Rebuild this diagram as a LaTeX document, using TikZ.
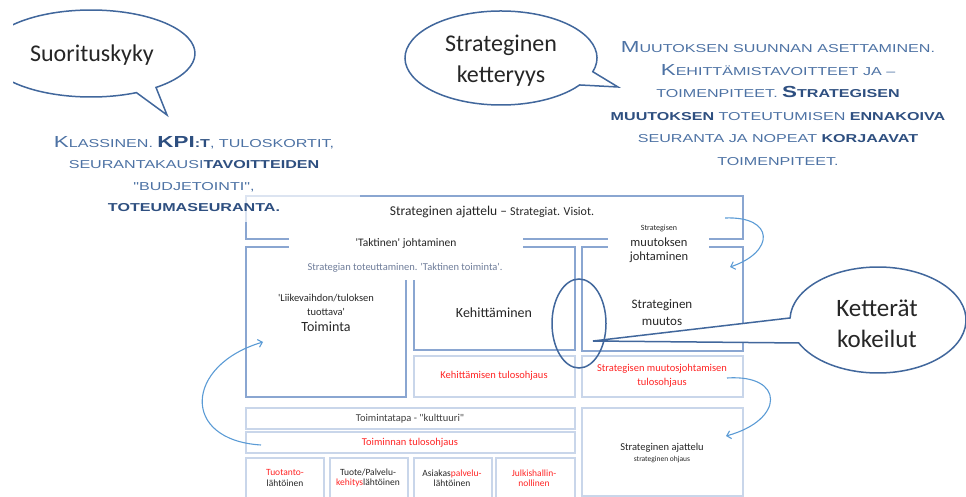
\documentclass[tikz,border=0pt]{standalone}
\usepackage{fontspec}
\usetikzlibrary{arrows.meta}
\setmainfont{Carlito}[Ligatures=TeXOff]
\newfontfamily\cpl{Liberation Sans}[FakeStretch=1.4,Ligatures=TeXOff]
\definecolor{medc}{HTML}{8AA6D1}
\definecolor{litec}{HTML}{C9D6EA}
\definecolor{dkc}{HTML}{41679C}
\definecolor{arrc}{HTML}{5B9BD5}
\definecolor{redc}{HTML}{FF2424}
\definecolor{txtc}{HTML}{262626}
\definecolor{gbc}{HTML}{6E7C99}
\definecolor{regc}{HTML}{4D72A4}
\definecolor{boldc}{HTML}{2E4F80}
\newcommand\Bg[1]{{\fontsize{16}{16}\selectfont #1}}
\newcommand\rt[1]{\textcolor{regc}{#1}}
\newcommand\bt[1]{\textcolor{boldc}{\bfseries #1}}
\newcommand\fs[1]{\fontsize{#1}{#1}\selectfont}
\begin{document}
\begin{tikzpicture}[x=1pt,y=1pt,yscale=-1,
  med/.style={draw=medc, line width=1.6pt},
  lite/.style={draw=litec, line width=1.3pt},
  dk/.style={draw=dkc, line width=1.5pt},
  arr/.style={draw=arrc, line width=1.1pt, -{Straight Barb[length=4pt,width=8pt]}},
  lbl/.style={inner sep=0pt, align=center, text=txtc},
  gap/.style={fill=white, inner sep=0pt},
  cp/.style={inner sep=0pt, align=center}]
\useasboundingbox (0,0) rectangle (966,497);
% ---------- frames ----------
\draw[med] (246,196) rectangle (743,239);
\draw[med] (406,280) -- (406,397) -- (246,397) -- (246,247) -- (575,247) -- (575,350) -- (414,350) -- (414,280);
\draw[med] (582,247) rectangle (743,351);
\draw[lite] (414,356) rectangle (575,397);
\draw[lite] (582,356) rectangle (743,397);
\draw[lite] (246,408) rectangle (575,429);
\draw[lite] (246,432) rectangle (575,453);
\draw[lite] (246,458) rectangle (324,502);
\draw[lite] (330,458) rectangle (408,502);
\draw[lite] (414,458) rectangle (492,502);
\draw[lite] (496,458) rectangle (575,502);
\draw[lite] (582,408) rectangle (743,496);
% veil of the left text box
\fill[white, fill opacity=0.7] (30,125) rectangle (360,222);
% ---------- gaps and labels ----------
\node[gap, minimum width=234pt, minimum height=14pt] (tgap) at (406,243) {};
\node[lbl, font=\fs{11.5}] (takt) at (406,243) {'Taktinen' johtaminen};
\node[gap, minimum width=101pt, minimum height=14pt] (sgap) at (658.5,243) {};
\node[lbl, font=\fs{8}] (smj1) at (659,228) {Strategisen};
\node[lbl, font=\fs{12.5}] (smj2) at (659,242) {muutoksen};
\node[lbl, font=\fs{12.5}] (smj3) at (659,257) {johtaminen};
\node[lbl] (sa) at (492,212) {{\fs{13.5}Strateginen ajattelu – }{\fs{12}Strategiat. Visiot.}};
\node[lbl, text=gbc, font=\fs{10.5}] (stt) at (405,268) {Strategian toteuttaminen. 'Taktinen toiminta'.};
\node[lbl, font=\fs{10.5}] (lv1) at (326,298) {'Liikevaihdon/tuloksen};
\node[lbl, font=\fs{10.5}] (lv2) at (326,312) {tuottava'};
\node[lbl, font=\fs{14}] (toim) at (326,327) {Toiminta};
\node[lbl, font=\fs{14}] (keh) at (494,313) {Kehittäminen};
\node[lbl, font=\fs{13}] (sm1) at (662,305) {Strateginen};
\node[lbl, font=\fs{13}] (sm2) at (662,321) {muutos};
\node[lbl, text=redc, font=\fs{10.5}] (kto) at (494,376) {Kehittämisen tulosohjaus};
\node[lbl, text=redc, font=\fs{10.5}] (smt1) at (662,369) {Strategisen muutosjohtamisen};
\node[lbl, text=redc, font=\fs{10.5}] (smt2) at (662,383) {tulosohjaus};
\node[lbl, text=black!75, font=\fs{10.5}] (ttp) at (410,419) {Toimintatapa - "kulttuuri"};
\node[lbl, text=redc, font=\fs{10.5}] (tto) at (410,443) {Toiminnan tulosohjaus};
\node[lbl, font=\fs{9.5}] (b1) at (285,478) {\textcolor{redc}{Tuotanto-}\\[1pt]lähtöinen};
\node[lbl, font=\fs{9.5}] (b2) at (368,478) {Tuote/Palvelu-\\[1pt]\textcolor{redc}{kehitys}lähtöinen};
\node[lbl, font=\fs{9.5}] (b3) at (452,478) {Asiakas\textcolor{redc}{palvelu-}\\[1pt]lähtöinen};
\node[lbl, text=redc, font=\fs{9.5}] (b4) at (534,478) {Julkishallin-\\[1pt]nollinen};
\node[lbl, font=\fs{10.5}] (saj) at (662,448) {Strateginen ajattelu};
\node[lbl, font=\fs{7.5}] (sao) at (662,460) {strateginen ohjaus};
% ---------- curved arrows ----------
\coordinate (a1s) at (725,218); \coordinate (a1e) at (730,267);
\draw[arr] (a1s) .. controls (775,216) and (775,252) .. (a1e);
\coordinate (a2s) at (727,378); \coordinate (a2e) at (726,436);
\draw[arr] (a2s) .. controls (785,374) and (785,420) .. (a2e);
\coordinate (a3s) at (261,445); \coordinate (a3e) at (263,342);
\draw[arr] (a3s) .. controls (180,440) and (185,365) .. (a3e);
% ---------- small ellipse ----------
\draw[dk] (579,323.5) ellipse[x radius=27, y radius=44.5];
% ---------- callouts ----------
\begin{scope}
\clip (13,0) rectangle (966,497);
\draw[dk, fill=white] ([shift={(91,53.5)}]51.3:104 and 43.5) arc[start angle=51.3, end angle=-295.9, x radius=104, y radius=43.5] -- (167,115) -- cycle;
\end{scope}
\node[lbl, font=\fs{24}] (suor) at (92,55) {Suorituskyky};
\draw[dk, fill=white] ([shift={(501,58)}]17:96 and 47) arc[start angle=17, end angle=-325, x radius=96, y radius=47] -- (618,87) -- cycle;
\node[lbl, font=\fs{24}] (sk1) at (501,45) {Strateginen};
\node[lbl, font=\fs{24}] (sk2) at (501,76) {ketteryys};
\draw[dk, fill=white] ([shift={(878,320)}]182.2:88 and 53) arc[start angle=182.2, end angle=514.3, x radius=88, y radius=53] -- (593,341) -- cycle;
\node[lbl, font=\fs{25}] (kk1) at (877,308) {Ketterät};
\node[lbl, font=\fs{25}] (kk2) at (877,339) {kokeilut};
% ---------- copperplate texts ----------
\node[cp, font=\cpl\fontsize{11.5}{21.5}\selectfont] (klas) at (194,174) {%
  \rt{\Bg{K}LASSINEN.} \bt{\Bg{KPI}:T}\rt{, TULOSKORTIT,}\\
  \rt{SEURANTAKAUSI}\bt{TAVOITTEIDEN}\\
  \rt{"BUDJETOINTI",}\\
  \bt{TOTEUMASEURANTA.}};
\node[cp, font=\cpl\fontsize{11.5}{22.6}\selectfont] (muut) at (778,103.5) {%
  \rt{\Bg{M}UUTOKSEN SUUNNAN ASETTAMINEN.}\\
  \rt{\Bg{K}EHITTÄMISTAVOITTEET JA –}\\
  \rt{TOIMENPITEET.} \bt{\Bg{S}TRATEGISEN}\\
  \bt{MUUTOKSEN} \rt{TOTEUTUMISEN} \bt{ENNAKOIVA}\\
  \rt{SEURANTA JA NOPEAT} \bt{KORJAAVAT}\\
  \rt{TOIMENPITEET.}};
\end{tikzpicture}
\end{document}
